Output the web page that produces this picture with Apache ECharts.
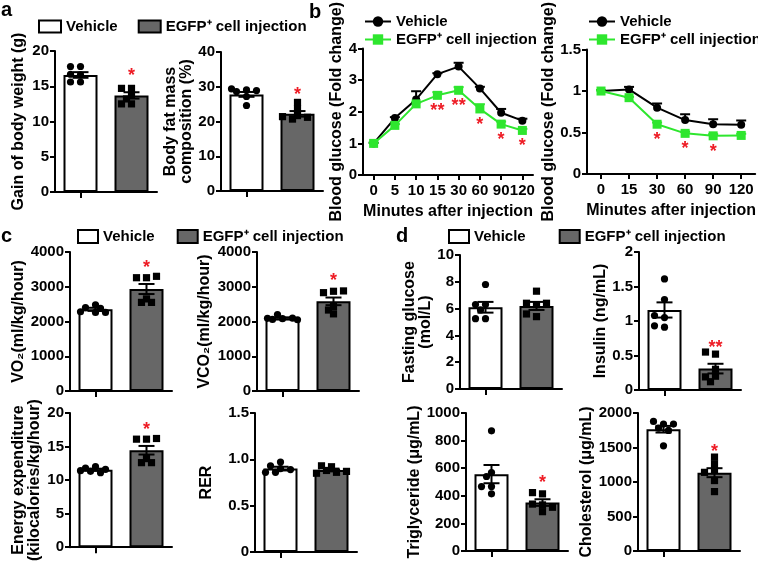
<!DOCTYPE html>
<html><head><meta charset="utf-8">
<script src="https://cdn.jsdelivr.net/npm/echarts@6/dist/echarts.min.js"></script>
<style>html,body{margin:0;padding:0;background:#fff}#c{width:758px;height:563px}</style>
</head><body><div id="c"></div>
<script>
// ---------- DATA ----------
const groups = ['Vehicle', 'EGFP⁺ cell injection'];

// a
const weightGainMean = [16.6, 13.7];
const weightGainSem = [0.4, 0.45];
const weightGainVehicle = [17.8, 17.8, 16.6, 16.7, 15.6, 15.6];
const weightGainEGFP = [14.7, 14.7, 13.8, 13.2, 12.5, 12.5];
const weightGainSig = ['', '*'];

const fatMassMean = [27.8, 22.2];
const fatMassSem = [0.7, 0.8];
const fatMassVehicle = [29.1, 28.6, 28.9, 29.4, 27.2, 24.6];
const fatMassEGFP = [25.5, 23.6, 21.7, 20.7, 21.2, 21.4];
const fatMassSig = ['', '*'];

// b
const gttMinutes = ['0', '5', '10', '15', '30', '60', '90', '120'];
const gttVehicle = [1.0, 1.80, 2.39, 3.19, 3.43, 2.74, 1.97, 1.72];
const gttVehicleSem = [0.02, 0.03, 0.26, 0.03, 0.12, 0.05, 0.12, 0.06];
const gttEGFP = [1.0, 1.57, 2.25, 2.52, 2.68, 2.09, 1.61, 1.41];
const gttEGFPSem = [0.02, 0.04, 0.05, 0.10, 0.10, 0.15, 0.08, 0.05];
const gttSig = ['', '', '', '**', '**', '*', '*', '*'];

const ittMinutes = ['0', '15', '30', '60', '90', '120'];
const ittVehicle = [1.0, 1.02, 0.80, 0.65, 0.60, 0.595];
const ittVehicleSem = [0.01, 0.03, 0.05, 0.07, 0.06, 0.05];
const ittEGFP = [1.0, 0.92, 0.60, 0.49, 0.46, 0.465];
const ittEGFPSem = [0.01, 0.01, 0.02, 0.02, 0.02, 0.02];
const ittSig = ['', '', '*', '*', '*', ''];

// c
const vo2Mean = [2350, 2935];
const vo2Sem = [45, 145];
const vo2Vehicle = [2480, 2400, 2380, 2260, 2260, 2280];
const vo2EGFP = [3260, 3260, 3300, 2650, 2550, 2550];
const vo2Sig = ['', '*'];

const vco2Mean = [2090, 2580];
const vco2Sem = [30, 110];
const vco2Vehicle = [2080, 2060, 2100, 2090, 2200, 2050];
const vco2EGFP = [2870, 2830, 2880, 2430, 2330, 2220];
const vco2Sig = ['', '*'];

const eeMean = [11.55, 14.45];
const eeSem = [0.15, 0.64];
const eeVehicle = [12.0, 11.8, 11.6, 11.3, 11.1, 11.4];
const eeEGFP = [16.1, 16.1, 16.2, 13.2, 12.6, 12.6];
const eeSig = ['', '*'];

const rerMean = [0.90, 0.885];
const rerSem = [0.02, 0.015];
const rerVehicle = [0.90, 0.97, 0.93, 0.89, 0.86, 0.86];
const rerEGFP = [0.92, 0.93, 0.88, 0.86, 0.85, 0.87];
const rerSig = ['', ''];

// d
const glucoseMean = [6.1, 6.2];
const glucoseSem = [0.4, 0.3];
const glucoseVehicle = [7.8, 6.3, 6.3, 5.9, 5.25, 5.25];
const glucoseEGFP = [7.3, 6.3, 6.4, 6.4, 5.4, 5.6];
const glucoseSig = ['', ''];

const insulinMean = [1.16, 0.31];
const insulinSem = [0.11, 0.07];
const insulinVehicle = [1.61, 1.31, 1.05, 1.08, 0.91, 0.93];
const insulinEGFP = [0.52, 0.55, 0.30, 0.20, 0.12, 0.19];
const insulinSig = ['', '**'];

const tgMean = [557, 351];
const tgSem = [66, 24];
const tgVehicle = [871, 568, 540, 467, 467, 414];
const tgEGFP = [414, 423, 334, 340, 317, 285];
const tgSig = ['', '*'];

const cholMean = [1765, 1135];
const cholSem = [48, 65];
const cholVehicle = [1840, 1878, 1782, 1747, 1840, 1525];
const cholEGFP = [1361, 1264, 1166, 1140, 1021, 861];
const cholSig = ['', '*'];

// ---------- CHART ----------
const FONT = '"Liberation Sans", Arial, Helvetica, sans-serif';
const RED = '#ee1c25';
const GREEN = '#2ee62e';
const GREY = '#676767';
const chart = echarts.init(document.getElementById('c'), null, {renderer: 'canvas', width: 758, height: 563});

const grids = [], xAxes = [], yAxes = [], series = [];

const axLine = {show: true, lineStyle: {color: '#000', width: 2}};
const axTick = {show: true, length: 5, lineStyle: {color: '#000', width: 2}};
const plain = v => String(v);
const tickLabel = {color: '#000', fontSize: 15, fontWeight: 'bold', fontFamily: FONT, margin: 6, formatter: plain};
const nameStyle = {color: '#000', fontSize: 16, fontWeight: 'bold', fontFamily: FONT, lineHeight: 16};

// simple beeswarm layout (pixel offsets only, values untouched)
function beeswarm(pts, step, r) {
  const placed = [];
  const offs = [0, -1, 1, -2, 2, -3, 3];
  return pts.map(p => {
    let best = null, bestD = -1;
    for (const k of offs) {
      const x = p[0] + k * step;
      const d = placed.length ? Math.min(...placed.map(q => Math.hypot(q[0] - x, q[1] - p[1]))) : Infinity;
      if (d >= r) { best = x; break; }
      if (d > bestD) { bestD = d; best = x; }
    }
    placed.push([best, p[1]]);
    return [best, p[1]];
  });
}

function addBarPanel(p) {
  const gi = grids.length;
  grids.push({left: p.left, top: p.top, width: p.width || 102, height: p.height});
  xAxes.push({gridIndex: gi, type: 'category', data: groups, boundaryGap: true,
    axisLine: axLine, axisTick: Object.assign({alignWithLabel: true}, axTick, {length: 6}),
    axisLabel: {show: false}, splitLine: {show: false}});
  yAxes.push({gridIndex: gi, type: 'value', min: 0, max: p.max, interval: p.interval,
    name: p.name, nameLocation: 'middle', nameRotate: 90, nameGap: p.nameGap,
    nameTextStyle: Object.assign({}, nameStyle, p.nameStyle || {}),
    axisLine: axLine, axisTick: axTick,
    axisLabel: Object.assign({}, tickLabel, p.fmt ? {formatter: p.fmt} : {}),
    splitLine: {show: false}});
  series.push({type: 'bar', name: groups[0], xAxisIndex: gi, yAxisIndex: gi,
    data: [p.mean[0], '-'], barWidth: 34, barGap: '-100%', silent: true,
    itemStyle: {color: '#fff', borderColor: '#000', borderWidth: 2}});
  series.push({type: 'bar', name: groups[1], xAxisIndex: gi, yAxisIndex: gi,
    data: ['-', p.mean[1]], barWidth: 34, barGap: '-100%', silent: true,
    itemStyle: {color: GREY, borderColor: '#000', borderWidth: 2}});
  // error bars
  series.push({type: 'custom', xAxisIndex: gi, yAxisIndex: gi, silent: true, z: 4,
    data: [[0, p.mean[0], p.sem[0]], [1, p.mean[1], p.sem[1]]],
    encode: {x: 0, y: 1},
    renderItem: function (params, api) {
      const x = api.value(0), m = api.value(1), s = api.value(2);
      const lo = api.coord([x, m - s]), hi = api.coord([x, m + s]);
      const w = 8, st = {stroke: '#000', lineWidth: 2};
      return {type: 'group', children: [
        {type: 'line', shape: {x1: lo[0], y1: lo[1], x2: hi[0], y2: hi[1]}, style: st},
        {type: 'line', shape: {x1: hi[0] - w, y1: hi[1], x2: hi[0] + w, y2: hi[1]}, style: st},
        {type: 'line', shape: {x1: lo[0] - w, y1: lo[1], x2: lo[0] + w, y2: lo[1]}, style: st}
      ]};
    }});
  // individual animals
  series.push({type: 'custom', xAxisIndex: gi, yAxisIndex: gi, silent: true, z: 5,
    data: [[0].concat(p.dotsV), [1].concat(p.dotsE)],
    encode: {x: 0, y: [1, 2, 3, 4, 5, 6]},
    renderItem: function (params, api) {
      const cat = api.value(0);
      const pts = [];
      for (let k = 1; k <= 6; k++) pts.push(api.coord([cat, api.value(k)]));
      const pos = beeswarm(pts, 5, 6);
      return {type: 'group', children: pos.map(q => cat === 0
        ? {type: 'circle', shape: {cx: q[0], cy: q[1], r: 3.6}, style: {fill: '#000'}}
        : {type: 'rect', shape: {x: q[0] - 3.6, y: q[1] - 3.6, width: 7.2, height: 7.2}, style: {fill: '#000'}})};
    }});
  // significance
  series.push({type: 'custom', xAxisIndex: gi, yAxisIndex: gi, silent: true, z: 6,
    data: [[0, p.mean[0] + p.sem[0]], [1, p.mean[1] + p.sem[1]]],
    encode: {x: 0, y: 1},
    renderItem: function (params, api) {
      const txt = p.sig[params.dataIndex];
      if (!txt) return null;
      const c = api.coord([api.value(0), api.value(1)]);
      return {type: 'text', x: c[0], y: c[1] - 16,
        style: {text: txt, fill: RED, font: 'bold 18px ' + FONT, align: 'center', verticalAlign: 'middle'}};
    }});
}

function addLinePanel(p) {
  const gi = grids.length;
  grids.push({left: p.left, top: p.top, width: p.width, height: p.height});
  xAxes.push({gridIndex: gi, type: 'category', data: p.cats, boundaryGap: true,
    name: 'Minutes after injection', nameLocation: 'middle', nameGap: 29,
    nameTextStyle: Object.assign({}, nameStyle, {fontSize: 16}),
    axisLine: axLine, axisTick: Object.assign({alignWithLabel: true}, axTick),
    axisLabel: Object.assign({}, tickLabel, {margin: 8, interval: 0}), splitLine: {show: false}});
  yAxes.push({gridIndex: gi, type: 'value', min: 0, max: p.max, interval: p.interval,
    name: 'Blood glucose (Fold change)', nameLocation: 'middle', nameRotate: 90, nameGap: p.nameGap,
    nameTextStyle: nameStyle, axisLine: axLine, axisTick: axTick,
    axisLabel: tickLabel, splitLine: {show: false}});
  const errSeries = (vals, sems, color) => ({type: 'custom', xAxisIndex: gi, yAxisIndex: gi, silent: true, z: 1,
    data: vals.map((v, i) => [i, v, sems[i]]), encode: {x: 0, y: 1},
    renderItem: function (params, api) {
      const x = api.value(0), m = api.value(1), s = api.value(2);
      const a = api.coord([x, m]), b = api.coord([x, m + s]);
      const st = {stroke: color, lineWidth: 2};
      return {type: 'group', children: [
        {type: 'line', shape: {x1: a[0], y1: a[1], x2: b[0], y2: b[1]}, style: st},
        {type: 'line', shape: {x1: b[0] - 5, y1: b[1], x2: b[0] + 5, y2: b[1]}, style: st}]};
    }});
  series.push(errSeries(p.vehicle, p.vehicleSem, '#000'));
  series.push(errSeries(p.egfp, p.egfpSem, GREEN));
  series.push({type: 'line', name: 'Vehicle ', xAxisIndex: gi, yAxisIndex: gi, data: p.vehicle,
    symbol: 'circle', symbolSize: 8, z: 3, silent: true,
    lineStyle: {color: '#000', width: 2}, itemStyle: {color: '#000'}});
  series.push({type: 'line', name: 'EGFP⁺ cell injection ', xAxisIndex: gi, yAxisIndex: gi, data: p.egfp,
    symbol: 'rect', symbolSize: 9, z: 4, silent: true,
    lineStyle: {color: GREEN, width: 2}, itemStyle: {color: GREEN}});
  series.push({type: 'custom', xAxisIndex: gi, yAxisIndex: gi, silent: true, z: 6,
    data: p.egfp.map((v, i) => [i, v]), encode: {x: 0, y: 1},
    renderItem: function (params, api) {
      const txt = p.sig[params.dataIndex];
      if (!txt) return null;
      const c = api.coord([api.value(0), api.value(1)]);
      return {type: 'text', x: c[0], y: c[1] + 16,
        style: {text: txt, fill: RED, font: 'bold 18px ' + FONT, align: 'center', verticalAlign: 'middle'}};
    }});
}

// a
addBarPanel({left: 55, top: 51, height: 141, max: 20, interval: 5, name: 'Gain of body weight (g)', nameGap: 28,
  mean: weightGainMean, sem: weightGainSem, dotsV: weightGainVehicle, dotsE: weightGainEGFP, sig: weightGainSig});
addBarPanel({left: 221, top: 52, height: 139, max: 40, interval: 10, name: 'Body fat mass\ncomposition (%)', nameGap: 22,
  mean: fatMassMean, sem: fatMassSem, dotsV: fatMassVehicle, dotsE: fatMassEGFP, sig: fatMassSig});
// b
addLinePanel({left: 363, top: 33, width: 170, height: 142, max: 4, interval: 1, nameGap: 17, cats: gttMinutes,
  vehicle: gttVehicle, vehicleSem: gttVehicleSem, egfp: gttEGFP, egfpSem: gttEGFPSem, sig: gttSig});
addLinePanel({left: 587, top: 32, width: 169, height: 142, max: 1.5, interval: 0.5, nameGap: 27, cats: ittMinutes,
  vehicle: ittVehicle, vehicleSem: ittVehicleSem, egfp: ittEGFP, egfpSem: ittEGFPSem, sig: ittSig});
// c
addBarPanel({left: 70, top: 252, height: 139, max: 4000, interval: 1000, name: 'VO₂(ml/kg/hour)', nameGap: 42,
  mean: vo2Mean, sem: vo2Sem, dotsV: vo2Vehicle, dotsE: vo2EGFP, sig: vo2Sig});
addBarPanel({left: 257, top: 252, height: 139, max: 4000, interval: 1000, name: 'VCO₂(ml/kg/hour)', nameGap: 44,
  mean: vco2Mean, sem: vco2Sem, dotsV: vco2Vehicle, dotsE: vco2EGFP, sig: vco2Sig});
addBarPanel({left: 70, top: 413, height: 139, max: 20, interval: 5, name: 'Energy expenditure\n(kilocalories/kg/hour)', nameGap: 27,
  mean: eeMean, sem: eeSem, dotsV: eeVehicle, dotsE: eeEGFP, sig: eeSig});
addBarPanel({left: 255, top: 413, height: 139, max: 1.5, interval: 0.5, name: 'RER', nameGap: 40,
  fmt: v => v === 0 ? '0' : v.toFixed(1),
  mean: rerMean, sem: rerSem, dotsV: rerVehicle, dotsE: rerEGFP, sig: rerSig});
// d
addBarPanel({left: 460, top: 255, height: 134, max: 10, interval: 2, name: 'Fasting glucose\n(mol/L)', nameGap: 16,
  mean: glucoseMean, sem: glucoseSem, dotsV: glucoseVehicle, dotsE: glucoseEGFP, sig: glucoseSig});
addBarPanel({left: 639, top: 252, height: 138, max: 2, interval: 0.5, name: 'Insulin (ng/mL)', nameGap: 27,
  mean: insulinMean, sem: insulinSem, dotsV: insulinVehicle, dotsE: insulinEGFP, sig: insulinSig});
addBarPanel({left: 466, top: 413, height: 138, max: 1000, interval: 200, name: 'Triglyceride (μg/mL)', nameGap: 38,
  mean: tgMean, sem: tgSem, dotsV: tgVehicle, dotsE: tgEGFP, sig: tgSig});
addBarPanel({left: 638, top: 413, height: 138, max: 2000, interval: 500, name: 'Cholesterol (μg/mL)', nameGap: 37,
  mean: cholMean, sem: cholSem, dotsV: cholVehicle, dotsE: cholEGFP, sig: cholSig});

const legText = {color: '#000', fontSize: 15, fontWeight: 'bold', fontFamily: FONT};
const barLegendData = [
  {name: groups[0], icon: 'rect', itemStyle: {color: '#fff', borderColor: '#000', borderWidth: 2}},
  {name: groups[1], icon: 'rect', itemStyle: {color: GREY, borderColor: '#000', borderWidth: 2}}
];
function barLegend(left, top, gap, w, h) {
  return {left: left, top: top, itemGap: gap, itemWidth: w, itemHeight: h, padding: 0,
    selectedMode: false, textStyle: legText, data: barLegendData};
}
function lineLegend(left, top) {
  return {left: left, top: top, orient: 'vertical', itemGap: 3, itemWidth: 26, itemHeight: 13, padding: 0,
    selectedMode: false, textStyle: legText, data: ['Vehicle ', 'EGFP⁺ cell injection ']};
}

const panelLabel = (t, x, y) => ({type: 'text', left: x, top: y,
  style: {text: t, font: 'bold 20px ' + FONT, fill: '#000'}});

chart.setOption({
  animation: false,
  textStyle: {fontFamily: FONT},
  grid: grids, xAxis: xAxes, yAxis: yAxes, series: series,
  legend: [
    barLegend(38, 19, 20, 22, 12),
    lineLegend(364, 14),
    lineLegend(588, 14),
    barLegend(77, 229, 22, 20, 13),
    barLegend(448, 229, 33, 20, 13)
  ],
  graphic: [
    panelLabel('a', 1, 0),
    panelLabel('b', 309, 2),
    panelLabel('c', 1, 226),
    panelLabel('d', 396, 226)
  ]
});
</script></body></html>
